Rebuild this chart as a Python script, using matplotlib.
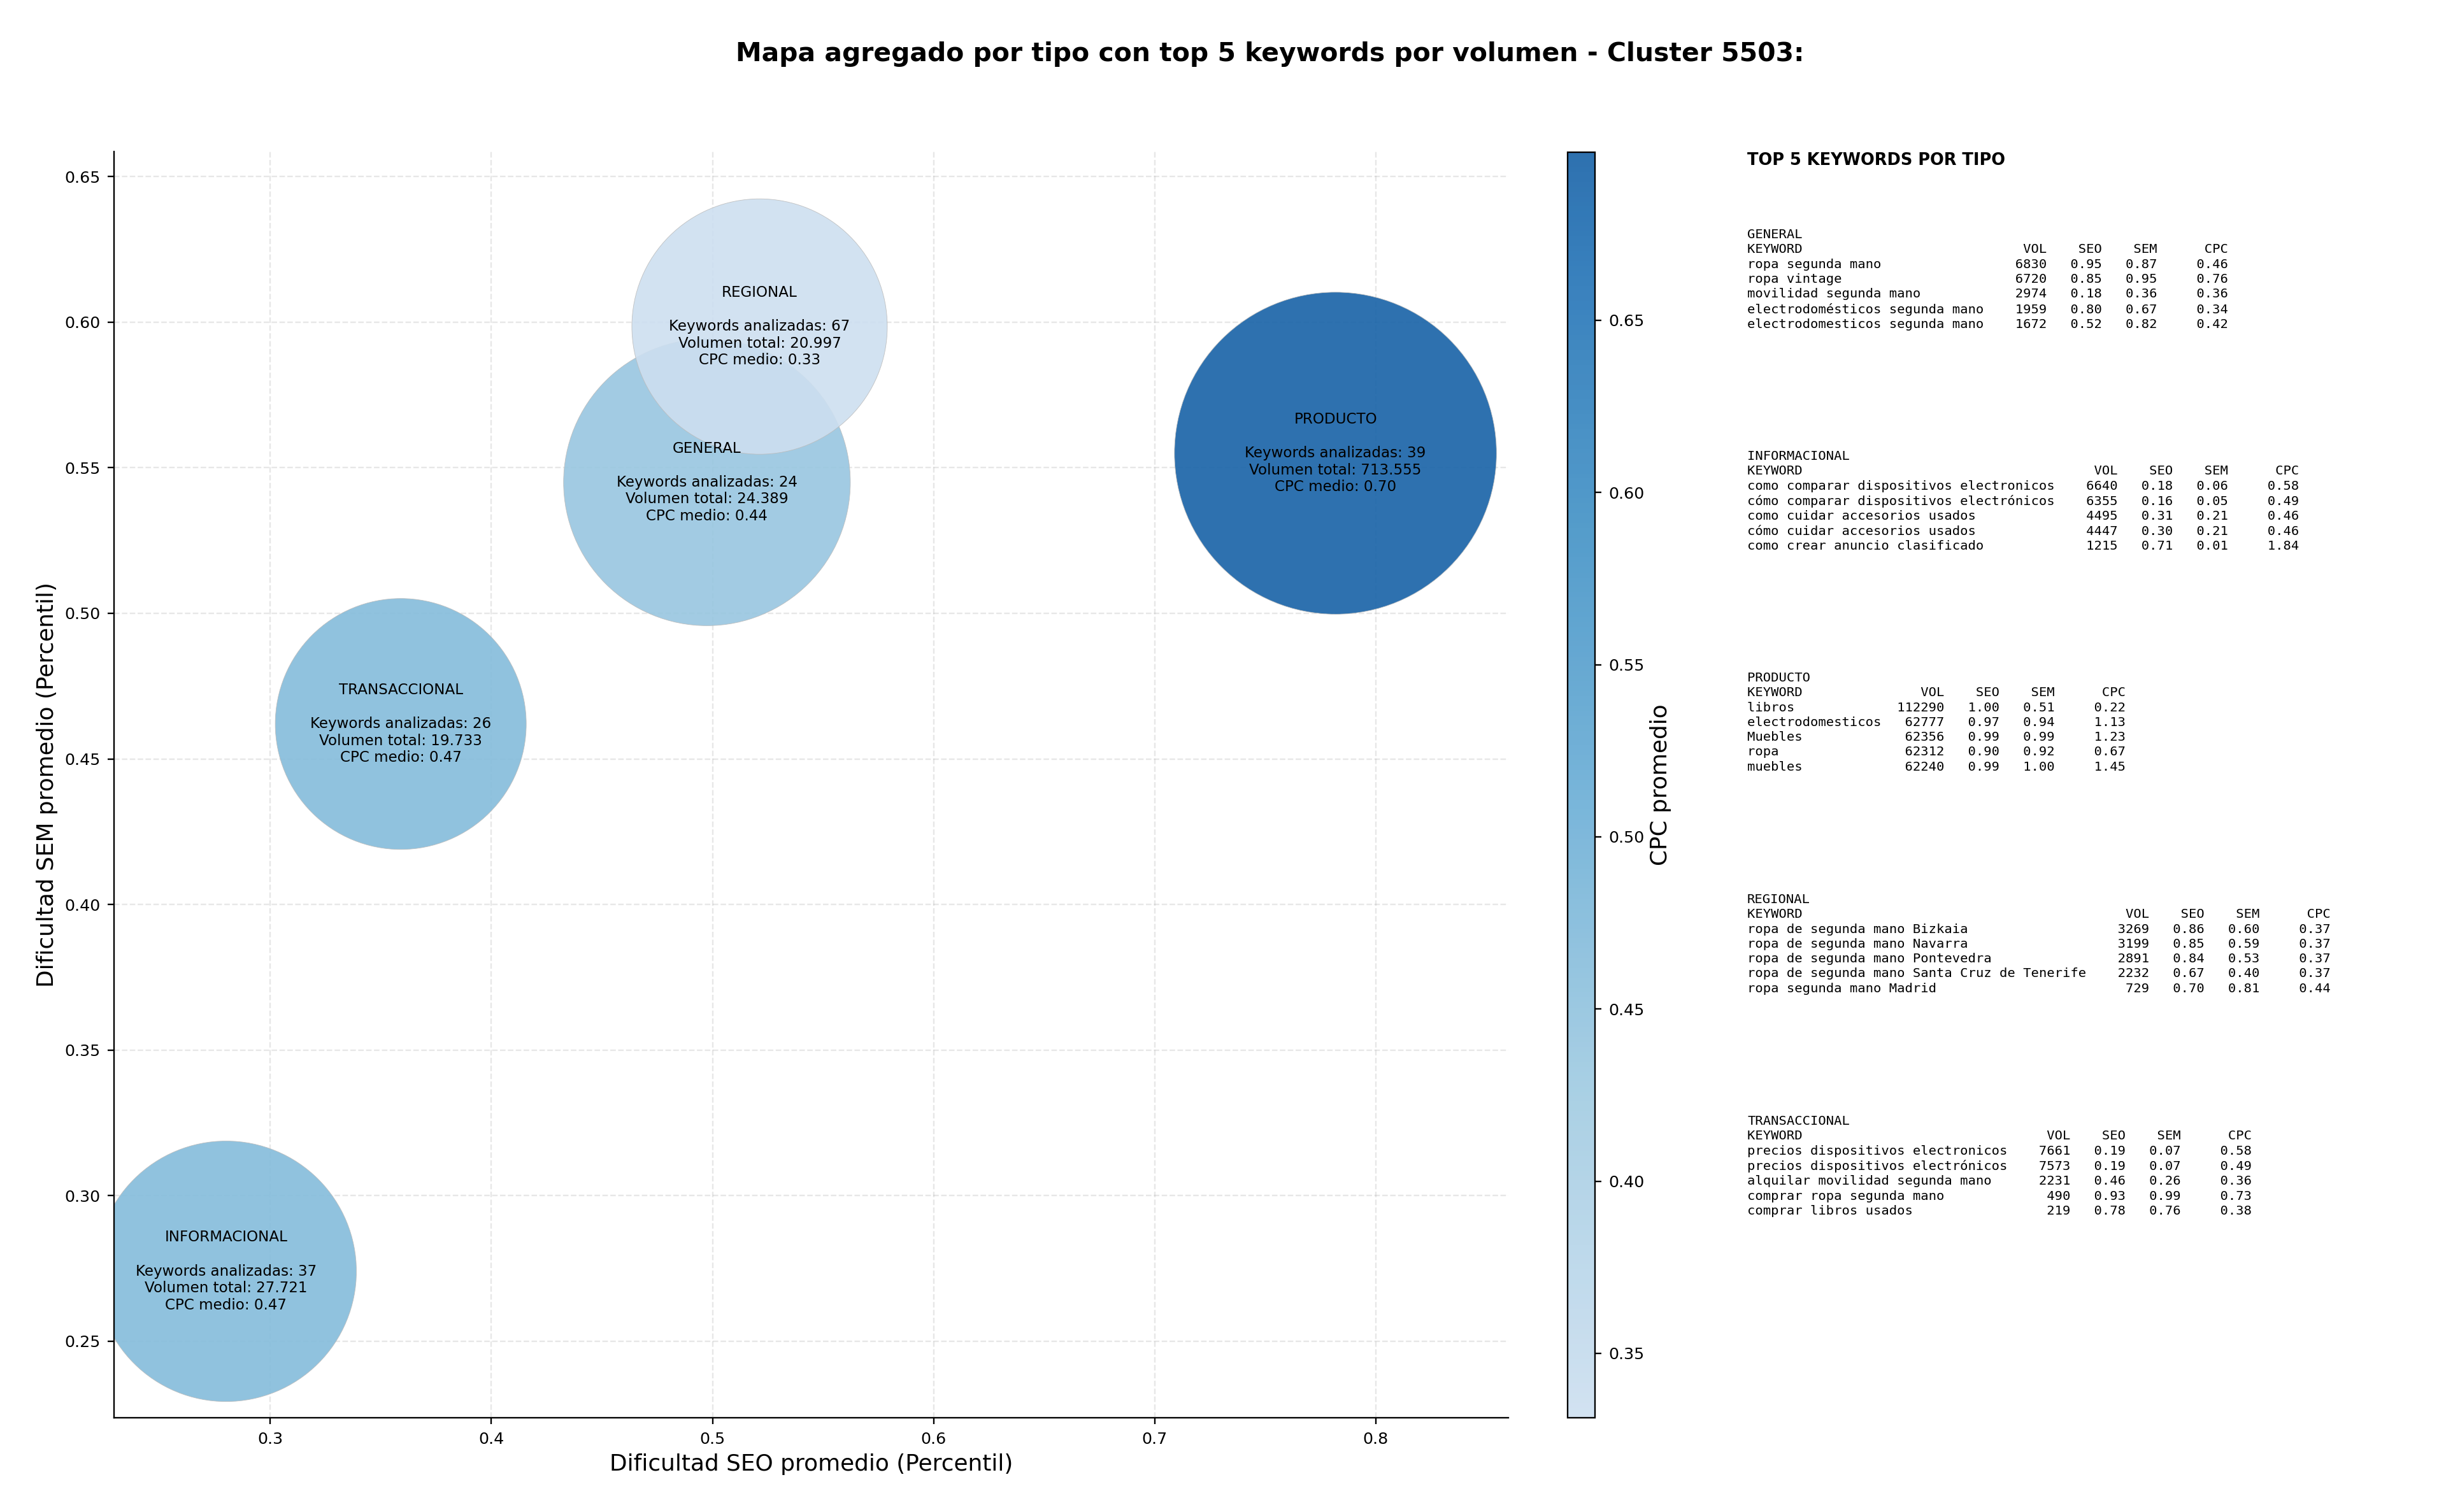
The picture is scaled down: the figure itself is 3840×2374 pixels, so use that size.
import matplotlib
matplotlib.use("Agg")
import matplotlib.pyplot as plt
from matplotlib.colors import LinearSegmentedColormap, Normalize

tipos = ["GENERAL", "INFORMACIONAL", "PRODUCTO", "REGIONAL", "TRANSACCIONAL"]
seo_medio = [0.4975, 0.280, 0.7818, 0.5213, 0.359]
sem_medio = [0.545, 0.274, 0.555, 0.5985, 0.462]
cpc_medio = [0.44, 0.47, 0.6988, 0.3313, 0.47]
keywords_n = [24, 37, 39, 67, 26]
volumen_txt = ["24.389", "27.721", "713.555", "20.997", "19.733"]
cpc_txt = ["0.44", "0.47", "0.70", "0.33", "0.47"]
burbuja = [18240, 15060, 23000, 14470, 13970]

kw_general = ["ropa segunda mano", "ropa vintage", "movilidad segunda mano", "electrodomésticos segunda mano", "electrodomesticos segunda mano"]
vol_general = [6830, 6720, 2974, 1959, 1672]
seo_general = [0.95, 0.85, 0.18, 0.80, 0.52]
sem_general = [0.87, 0.95, 0.36, 0.67, 0.82]
cpc_general = [0.46, 0.76, 0.36, 0.34, 0.42]

kw_info = ["como comparar dispositivos electronicos", "cómo comparar dispositivos electrónicos", "como cuidar accesorios usados", "cómo cuidar accesorios usados", "como crear anuncio clasificado"]
vol_info = [6640, 6355, 4495, 4447, 1215]
seo_info = [0.18, 0.16, 0.31, 0.30, 0.71]
sem_info = [0.06, 0.05, 0.21, 0.21, 0.01]
cpc_info = [0.58, 0.49, 0.46, 0.46, 1.84]

kw_prod = ["libros", "electrodomesticos", "Muebles", "ropa", "muebles"]
vol_prod = [112290, 62777, 62356, 62312, 62240]
seo_prod = [1.00, 0.97, 0.99, 0.90, 0.99]
sem_prod = [0.51, 0.94, 0.99, 0.92, 1.00]
cpc_prod = [0.22, 1.13, 1.23, 0.67, 1.45]

kw_reg = ["ropa de segunda mano Bizkaia", "ropa de segunda mano Navarra", "ropa de segunda mano Pontevedra", "ropa de segunda mano Santa Cruz de Tenerife", "ropa segunda mano Madrid"]
vol_reg = [3269, 3199, 2891, 2232, 729]
seo_reg = [0.86, 0.85, 0.84, 0.67, 0.70]
sem_reg = [0.60, 0.59, 0.53, 0.40, 0.81]
cpc_reg = [0.37, 0.37, 0.37, 0.37, 0.44]

kw_trans = ["precios dispositivos electronicos", "precios dispositivos electrónicos", "alquilar movilidad segunda mano", "comprar ropa segunda mano", "comprar libros usados"]
vol_trans = [7661, 7573, 2231, 490, 219]
seo_trans = [0.19, 0.19, 0.46, 0.93, 0.78]
sem_trans = [0.07, 0.07, 0.26, 0.99, 0.76]
cpc_trans = [0.58, 0.49, 0.36, 0.73, 0.38]

W, H = 3840, 2374
DPI = 240
fig = plt.figure(figsize=(W / DPI, H / DPI), dpi=DPI)

def box(l, t, r, b):
    return [l / W, 1 - b / H, (r - l) / W, (b - t) / H]

ax = fig.add_axes(box(179, 238, 2368, 2226))
cax = fig.add_axes(box(2461, 239, 2504, 2226))

cmap = LinearSegmentedColormap.from_list("azules", [
    (0.0, "#cddff0"), (0.267, "#9ecae1"), (0.483, "#6baed6"),
    (0.699, "#4292c6"), (0.914, "#2171b5"), (1.0, "#1762a7")])
norm = Normalize(vmin=min(cpc_medio), vmax=max(cpc_medio))

sc = ax.scatter(seo_medio, sem_medio, s=burbuja, c=cpc_medio, cmap=cmap, norm=norm,
                alpha=0.9, edgecolors="#bbbbbb", linewidths=0.25, zorder=2)
for i, t in enumerate(tipos):
    ax.text(seo_medio[i], sem_medio[i],
            f"{t}\n\nKeywords analizadas: {keywords_n[i]}\nVolumen total: {volumen_txt[i]}\nCPC medio: {cpc_txt[i]}",
            ha="center", va="center", fontsize=6.9, color="black", zorder=3)

ax.set_xlim(0.2293, 0.86)
ax.set_ylim(0.2237, 0.6586)
ax.set_xticks([0.3, 0.4, 0.5, 0.6, 0.7, 0.8])
ax.set_yticks([0.25, 0.30, 0.35, 0.40, 0.45, 0.50, 0.55, 0.60, 0.65])
ax.set_yticklabels(["0.25", "0.30", "0.35", "0.40", "0.45", "0.50", "0.55", "0.60", "0.65"])
ax.tick_params(labelsize=7.6, length=3, width=0.7)
ax.grid(True, linestyle="--", alpha=0.3, linewidth=0.7, zorder=0)
ax.set_axisbelow(True)
ax.spines["top"].set_visible(False)
ax.spines["right"].set_visible(False)
ax.spines["left"].set_linewidth(0.7)
ax.spines["bottom"].set_linewidth(0.7)
ax.set_xlabel("Dificultad SEO promedio (Percentil)", fontsize=10.75)
ax.set_ylabel("Dificultad SEM promedio (Percentil)", fontsize=10.75)
ax.xaxis.set_label_coords(0.5, -0.028)
ax.yaxis.set_label_coords(-0.040, 0.5)

cb = fig.colorbar(sc, cax=cax)
cb.set_ticks([0.35, 0.40, 0.45, 0.50, 0.55, 0.60, 0.65])
cb.ax.tick_params(labelsize=7.6, length=3, width=0.7)
cb.outline.set_linewidth(0.7)
cb.set_label("CPC promedio", fontsize=10.75)
cb.ax.yaxis.set_label_coords(2.99, 0.5)

fig.text(1994 / W, 1 - 85 / H, "Mapa agregado por tipo con top 5 keywords por volumen - Cluster 5503:",
         ha="center", va="center", fontsize=12.25, fontweight="bold")
fig.text(2743 / W, 1 - 252 / H, "TOP 5 KEYWORDS POR TIPO", ha="left", va="center", fontsize=7.7, fontweight="bold")

def bloque(nombre, kw, vol, seo, sem, cpc):
    w = max(len(k) for k in kw)
    filas = [nombre, f"{'KEYWORD':<{w}}{'VOL':>8}{'SEO':>7}{'SEM':>7}{'CPC':>9}"]
    for k, v, a, b, c in zip(kw, vol, seo, sem, cpc):
        filas.append(f"{k:<{w}}{v:>8}{a:>7.2f}{b:>7.2f}{c:>9.2f}")
    return "\n".join(filas)

bloques = [
    bloque("GENERAL", kw_general, vol_general, seo_general, sem_general, cpc_general),
    bloque("INFORMACIONAL", kw_info, vol_info, seo_info, sem_info, cpc_info),
    bloque("PRODUCTO", kw_prod, vol_prod, seo_prod, sem_prod, cpc_prod),
    bloque("REGIONAL", kw_reg, vol_reg, seo_reg, sem_reg, cpc_reg),
    bloque("TRANSACCIONAL", kw_trans, vol_trans, seo_trans, sem_trans, cpc_trans),
]
for i, b in enumerate(bloques):
    fig.text(2743 / W, 1 - (359 + i * 348) / H, b, ha="left", va="top", fontsize=6.15,
             family="DejaVu Sans Mono", linespacing=1.285)

fig.savefig("out.png", dpi=DPI)
